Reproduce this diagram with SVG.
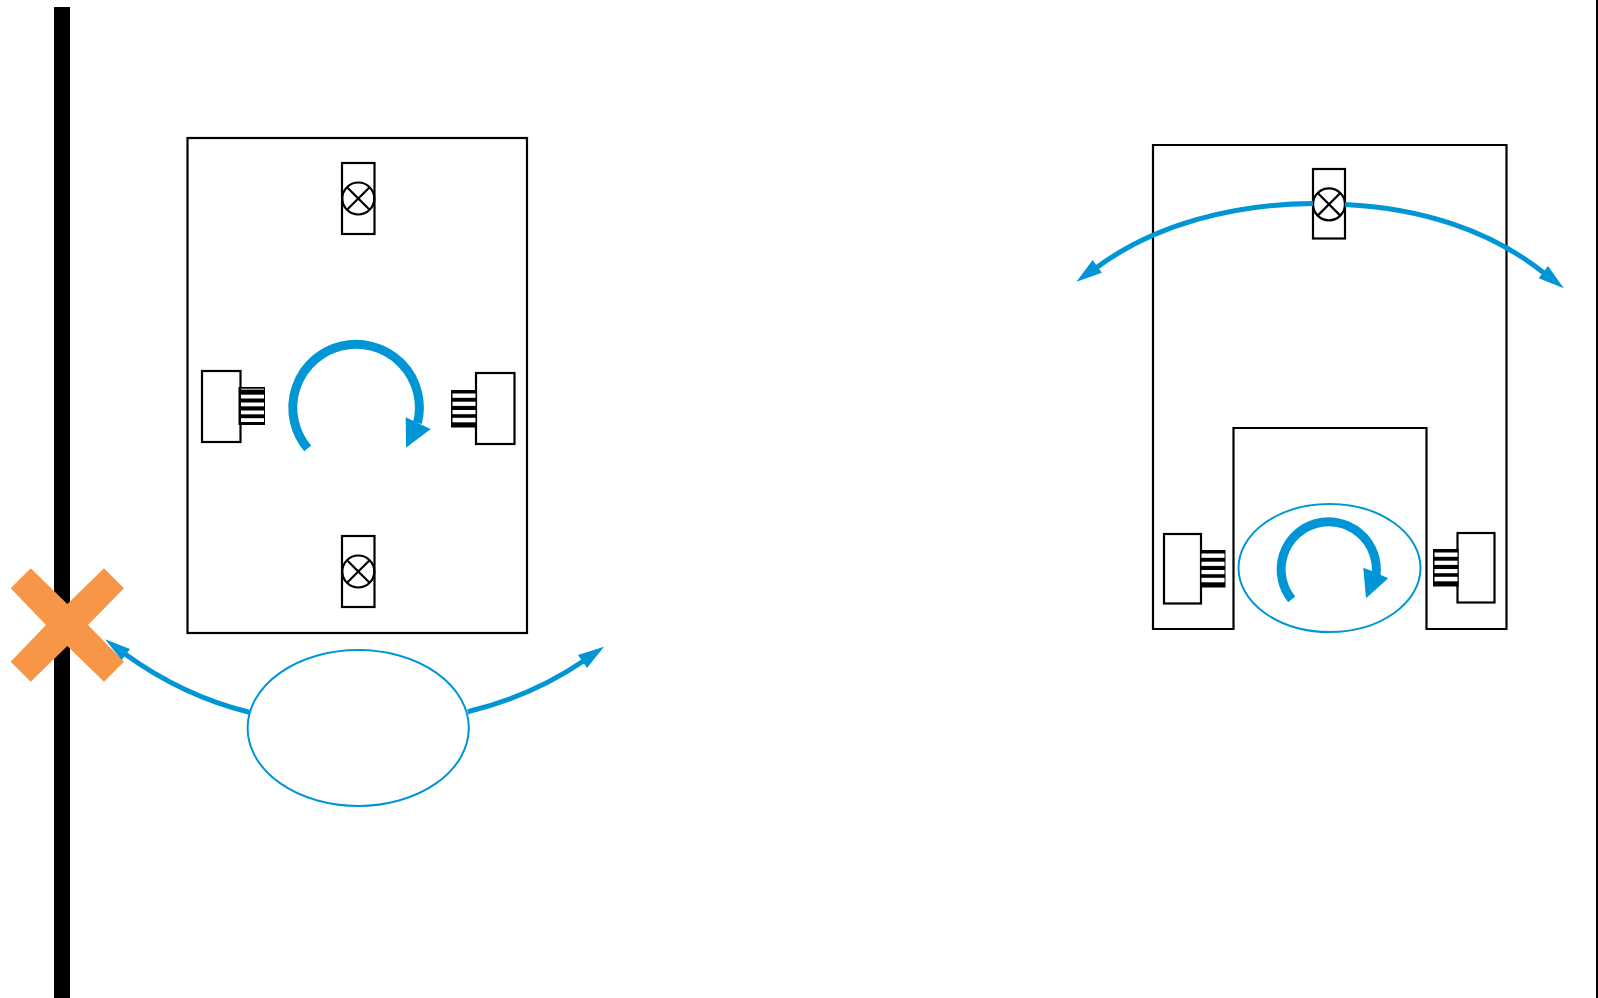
<svg xmlns="http://www.w3.org/2000/svg" width="1598" height="998" viewBox="0 0 1598 998">
<style>
.o{fill:#fff;stroke:#000;stroke-width:2.2;stroke-linejoin:miter}
.b{fill:none;stroke:#0096d6;stroke-linecap:butt}
.e{fill:none;stroke:#0096d6;stroke-width:2}
.h{fill:#0096d6;stroke:none}
.w{fill:#fff;stroke:none}
.l{fill:none;stroke:#000;stroke-width:2.2}
</style>
<defs>
<g id="lamp">
<rect class="o" x="0" y="0" width="32.5" height="71"/>
<circle class="l" cx="16.3" cy="35.5" r="16"/>
<path class="l" d="M5 24.2L27.6 46.8M27.6 24.2L5 46.8"/>
</g>
<g id="lamp-small">
<rect class="o" x="0" y="0" width="32" height="69.500"/>
<circle class="l" cx="16" cy="35.300" r="16"/>
<path class="l" d="M4.700 24L27.300 46.600M27.300 24L4.700 46.600"/>
</g>
<g id="comb-a">
<rect x="0" y="0" width="26.5" height="38" fill="#000"/>
<rect x="2.500" y="1.500" width="23" height="1.500" fill="#999"/>
<rect class="w" x="2.500" y="7.700" width="23" height="3.800"/>
<rect class="w" x="2.500" y="15.500" width="23" height="3.800"/>
<rect class="w" x="2.500" y="23.500" width="23" height="3.800"/>
<rect class="w" x="2.500" y="31.200" width="23" height="3.800"/>
</g>
<g id="comb-b">
<rect x="0" y="0" width="25.500" height="37.500" fill="#000"/>
<rect class="w" x="1.500" y="3.500" width="23" height="4.300"/>
<rect class="w" x="1.500" y="11.700" width="23" height="4.200"/>
<rect class="w" x="1.500" y="20" width="23" height="4.200"/>
<rect class="w" x="1.500" y="27.800" width="23" height="4.500"/>
</g>
</defs>
<g id="wall-left"><rect x="54" y="7" width="16" height="991" fill="#000"/></g>
<g id="wall-right"><rect x="1596" y="0" width="2" height="998" fill="#000"/></g>
<g id="body-left"><rect class="o" x="187.500" y="138" width="339.500" height="495"/></g>
<g id="lamp-top-left"><use href="#lamp" x="342" y="163"/></g>
<g id="lamp-bottom-left"><use href="#lamp" x="342" y="536"/></g>
<g id="driver-left-1"><rect class="o" x="202" y="371" width="38.500" height="71"/><use href="#comb-a" x="238.500" y="387"/></g>
<g id="driver-right-1"><rect class="o" x="476" y="373" width="38.500" height="71"/><use href="#comb-b" x="451" y="390"/></g>
<g id="wheel-left"><ellipse class="e" cx="358.200" cy="728" rx="110.600" ry="78"/></g>
<g id="body-right"><path class="o" d="M1153 145H1506.500V629H1426.500V428H1233.500V629H1153Z"/></g>
<g id="lamp-top-right"><use href="#lamp-small" x="1313" y="169"/></g>
<g id="driver-left-2"><rect class="o" x="1164" y="534" width="37" height="69.500"/><use href="#comb-b" x="1200" y="550"/></g>
<g id="driver-right-2"><rect class="o" x="1457.500" y="533" width="37" height="69.500"/><use href="#comb-b" x="1433" y="549"/></g>
<g id="wheel-right"><ellipse class="e" cx="1329.500" cy="568" rx="91" ry="64"/></g>
<g id="mark-x"><path d="M30.700 568.300L67.300 604L104 568.300L124 588.300L88 625L124 661.700L104 681.700L67.300 646L30.700 681.700L10.700 661.700L46 625L10.700 588.300Z" fill="#f79646"/></g>
<g id="connectors">
<path class="b" stroke-width="9" d="M307.700 448.400A63.300 63.300 0 1 1 417.500 423"/>
<path class="h" d="M405.700 417.300L415 421.700L430.700 429L406 447.700Z"/>
<path class="b" stroke-width="9" d="M1291.700 599.300A47.600 47.600 0 1 1 1376 575"/>
<path class="h" d="M1363.300 567.700L1372 571L1388.300 578.300L1366 598.300Z"/>
<path class="b" stroke-width="5" d="M249.300 712.300C204 701 165 683 125 654"/>
<path class="h" d="M105 639.300L130 649L121.700 660Z"/>
<path class="b" stroke-width="5" d="M467.700 711.700C512 701 550 684 585 660"/>
<path class="h" d="M604 646.700L578 655L587 668Z"/>
<path class="b" stroke-width="5" d="M1313 203.500C1235 204 1155 224 1096 268"/>
<path class="h" d="M1076.500 281.700L1092.600 260L1101.900 272.700Z"/>
<path class="b" stroke-width="5" d="M1345 204.500C1420 208 1490 230 1544 273"/>
<path class="h" d="M1563.800 288.300L1548 266L1538.700 278.300Z"/>
</g>
</svg>
